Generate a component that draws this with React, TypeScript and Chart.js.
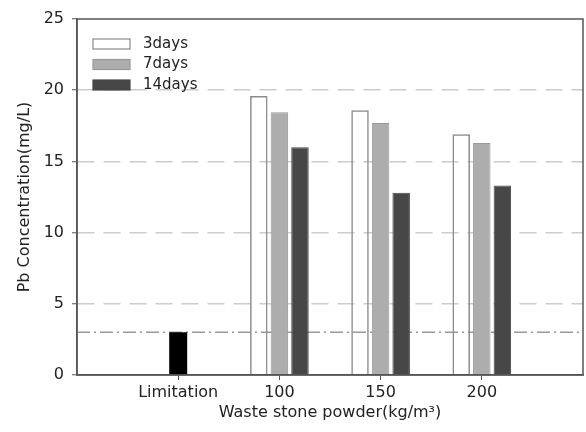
import React, { useEffect, useRef } from "react";
import { Chart, registerables } from "chart.js";

Chart.register(...registerables);

const categories = ["", "Limitation", "100", "150", "200", ""];
const threeDays = [null, null, 19.6, 18.6, 16.9, null];
const sevenDays = [null, null, 18.45, 17.7, 16.3, null];
const fourteenDays = [null, null, 16.0, 12.8, 13.3, null];
const limitation = [null, 3, null, null, null, null];
const limitValue = 3;
const yTicks = [0, 5, 10, 15, 20, 25];
const seriesLabels = ["3days", "7days", "14days", "Limitation"];

const FONT = "'DejaVu Sans', sans-serif";

const decorPlugin = {
  id: "decor",
  beforeDatasetsDraw(chart: any) {
    const { ctx, chartArea } = chart;
    const y = chart.scales.y.getPixelForValue(limitValue);
    ctx.save();
    ctx.strokeStyle = "#9a9a9a";
    ctx.lineWidth = 1.5;
    ctx.setLineDash([13, 4, 2, 4]);
    ctx.beginPath();
    ctx.moveTo(chartArea.left, y);
    ctx.lineTo(chartArea.right, y);
    ctx.stroke();
    ctx.restore();
  },
  afterDraw(chart: any) {
    const { ctx, chartArea } = chart;
    ctx.save();
    ctx.strokeStyle = "#555";
    ctx.lineWidth = 1.5;
    ctx.strokeRect(chartArea.left, chartArea.top, chartArea.right - chartArea.left, chartArea.bottom - chartArea.top);
    // legend
    const ds = chart.data.datasets.slice(0, 3);
    const bx = chartArea.left + 16;
    let cy = chartArea.top + 25;
    ds.forEach((d: any) => {
      const fill = d.backgroundColor === "rgba(0,0,0,0)" ? "#ffffff" : d.backgroundColor;
      ctx.fillStyle = fill;
      ctx.fillRect(bx, cy - 5, 37, 10);
      ctx.strokeStyle = d.borderColor;
      ctx.lineWidth = 1.2;
      ctx.strokeRect(bx, cy - 5, 37, 10);
      ctx.fillStyle = "#222";
      ctx.font = `15px ${FONT}`;
      ctx.textBaseline = "middle";
      ctx.textAlign = "left";
      ctx.fillText(d.label, bx + 50, cy);
      cy += 20.5;
    });
    ctx.restore();
  },
};

export default function App() {
  const ref = useRef<HTMLCanvasElement | null>(null);
  useEffect(() => {
    document.body.style.margin = "0";
    const chart = new Chart(ref.current as HTMLCanvasElement, {
      type: "bar",
      data: {
        labels: categories,
        datasets: [
          {
            label: seriesLabels[0],
            data: threeDays,
            backgroundColor: "rgba(0,0,0,0)",
            borderColor: "#8a8a8a",
            borderWidth: 1.5,
          },
          {
            label: seriesLabels[1],
            data: sevenDays,
            backgroundColor: "#adadad",
            borderColor: "#999999",
            borderWidth: 1,
          },
          {
            label: seriesLabels[2],
            data: fourteenDays,
            backgroundColor: "#474747",
            borderColor: "#474747",
            borderWidth: 1,
          },
          {
            label: seriesLabels[3],
            data: limitation,
            backgroundColor: "#000000",
            borderColor: "#000000",
            borderWidth: 0,
            grouped: false,
            maxBarThickness: 18,
          } as any,
        ],
      },
      options: {
        animation: false,
        responsive: false,
        maintainAspectRatio: false,
        layout: { padding: { left: 0, right: 2, top: 19, bottom: 0 } },
        datasets: { bar: { categoryPercentage: 0.61, barPercentage: 0.85 } },
        plugins: { legend: { display: false }, tooltip: { enabled: false } },
        scales: {
          x: {
            offset: false,
            grid: {
              offset: false,
              drawOnChartArea: false,
              tickLength: 5,
              tickColor: (c: any) => (c.index === 0 || c.index === categories.length - 1 ? "rgba(0,0,0,0)" : "#555"),
            },
            border: { color: "#555", width: 1.5 },
            ticks: { color: "#222", font: { family: FONT, size: 16 }, padding: 3, autoSkip: false, maxRotation: 0 },
            title: {
              display: true,
              text: "Waste stone powder(kg/m³)",
              color: "#222",
              font: { family: FONT, size: 16 },
              padding: { top: 0, bottom: 10 },
            },
            afterFit(scale: any) {
              scale.height = 57;
            },
          },
          y: {
            min: 0,
            max: 25,
            afterBuildTicks(scale: any) {
              scale.ticks = yTicks.map((v) => ({ value: v }));
            },
            grid: {
              color: (c: any) => (c.tick && (c.tick.value === 0 || c.tick.value === 25) ? "rgba(0,0,0,0)" : "#cccccc"),
              lineWidth: 1.5,
              tickLength: 5,
              tickColor: "#555",
              tickWidth: 1,
              tickBorderDash: [],
            } as any,
            border: { color: "#555", width: 1.5, dash: [17, 9] },
            ticks: { color: "#222", font: { family: FONT, size: 16 }, padding: 8 },
            title: {
              display: true,
              text: "Pb Concentration(mg/L)",
              color: "#222",
              font: { family: FONT, size: 16 },
              padding: { top: 15, bottom: 0 },
            },
            afterFit(scale: any) {
              scale.width = 77;
            },
          },
        },
      },
      plugins: [decorPlugin],
    });
    return () => chart.destroy();
  }, []);
  return (
    <div style={{ width: 586, height: 432 }}>
      <canvas ref={ref} width={586} height={432} style={{ width: 586, height: 432, display: "block" }} />
    </div>
  );
}
